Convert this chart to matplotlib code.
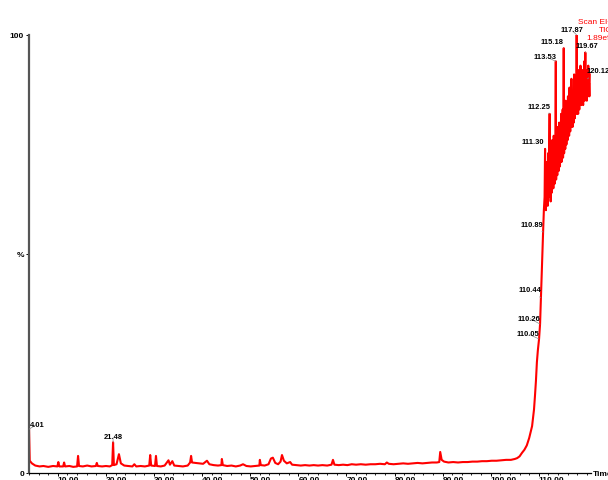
import matplotlib.pyplot as plt
from matplotlib.ticker import MultipleLocator

plt.rcParams['path.simplify'] = False

# TIC trace, time in minutes, intensity in % of the largest peak
base_time = [4.01, 4.15, 4.6, 5.3, 6.2, 7.0, 8.0, 9.0, 9.9, 10.1, 10.3, 11.1, 11.3, 11.5, 12.4,
             13.2, 14.0, 14.2, 14.4, 15.2, 16.1, 17.0, 17.9, 18.1, 18.3, 19.2, 20.0, 20.8, 21.3,
             21.48, 21.65, 22.2, 22.7, 23.1, 23.8, 24.6, 25.5, 25.9, 26.3, 27.2, 28.1, 29.0, 29.2,
             29.4, 30.2, 30.4, 30.6, 31.4, 32.2, 33.0, 33.3, 33.8, 34.2, 35.1, 36.0, 37.0, 37.5,
             37.7, 37.9, 38.6, 39.4, 40.2, 41.0, 41.5, 42.4, 43.3, 44.0, 44.1, 44.3, 45.2, 46.1,
             47.0, 47.9, 48.5, 49.2, 50.1, 51.0, 51.9, 52.0, 52.2, 53.0, 53.8, 54.3, 54.7, 55.2,
             55.8, 56.3, 56.6, 57.0, 57.6, 58.3, 58.7, 59.6, 60.5, 61.4, 62.3, 63.2, 64.1, 65.0,
             66.0, 66.9, 67.2, 67.5, 68.4, 69.3, 70.2, 71.1, 72.0, 73.0, 74.0, 75.0, 76.0, 77.0,
             78.0, 78.4, 78.8, 79.8, 80.8, 81.8, 82.8, 83.8, 84.8, 85.8, 86.8, 87.8, 88.8, 89.3,
             89.5, 89.8, 90.3, 91.2, 92.2, 93.2, 94.2, 95.2, 96.2, 97.2, 98.2, 99.2, 100.2, 101.2,
             102.2, 103.2, 104.2, 105.0]
base_pct = [10.0, 2.8, 2.2, 1.7, 1.5, 1.6, 1.4, 1.6, 1.5, 2.5, 1.5, 1.5, 2.4, 1.5, 1.6,
            1.4, 1.5, 3.9, 1.6, 1.5, 1.7, 1.5, 1.6, 2.3, 1.6, 1.5, 1.6, 1.5, 1.8,
            7.0, 1.8, 2.0, 4.3, 2.2, 1.7, 1.6, 1.5, 2.0, 1.5, 1.6, 1.5, 1.7, 4.1,
            1.7, 1.6, 3.9, 1.6, 1.5, 1.7, 2.9, 1.9, 2.7, 1.7, 1.6, 1.5, 1.7, 2.4,
            3.9, 2.4, 2.3, 2.2, 2.1, 2.8, 2.0, 1.8, 1.7, 1.8, 3.2, 1.8, 1.6, 1.7,
            1.5, 1.7, 2.0, 1.6, 1.5, 1.6, 1.7, 3.0, 1.8, 1.7, 2.0, 3.3, 3.5, 2.3,
            2.0, 2.6, 4.1, 2.8, 2.2, 2.5, 1.9, 1.8, 1.7, 1.8, 1.7, 1.8, 1.7, 1.8,
            1.7, 1.9, 3.0, 1.9, 1.8, 1.9, 1.8, 2.0, 1.9, 2.0, 1.9, 2.0, 2.0, 2.1,
            2.0, 2.4, 2.1, 2.0, 2.1, 2.2, 2.1, 2.2, 2.3, 2.2, 2.3, 2.4, 2.4, 2.5,
            4.8, 3.0, 2.6, 2.4, 2.5, 2.4, 2.5, 2.5, 2.6, 2.6, 2.7, 2.7, 2.8, 2.8,
            2.9, 3.0, 3.0, 3.2]

# steep rise of the column bleed
rise_time = [105.5, 106.0, 106.5, 107.0, 107.5, 108.0, 108.6, 109.0, 109.2, 109.4, 109.6,
             109.8, 110.05, 110.26, 110.44, 110.65, 110.89, 111.05, 111.2, 111.3, 111.35]
rise_pct = [3.4, 3.8, 4.6, 5.3, 6.3, 8.0, 10.7, 14.5, 17.6, 21.0, 25.3,
            28.0, 30.6, 34.0, 40.0, 47.0, 55.0, 60.0, 63.0, 74.0, 64.0]

# noisy plateau at the end of the run
band_time = [111.40, 111.48, 111.55, 111.62, 111.70, 111.78, 111.85, 111.92, 112.00, 112.08,
             112.16, 112.25, 112.30, 112.38, 112.46, 112.54, 112.62, 112.70, 112.78, 112.86,
             112.94, 113.02, 113.10, 113.18, 113.26, 113.34, 113.42, 113.53, 113.60, 113.68,
             113.76, 113.84, 113.92, 114.00, 114.08, 114.16, 114.24, 114.32, 114.40, 114.48,
             114.56, 114.64, 114.72, 114.80, 114.88, 114.96, 115.04, 115.10, 115.18, 115.26,
             115.34, 115.42, 115.50, 115.58, 115.66, 115.74, 115.82, 115.90, 115.98, 116.06,
             116.14, 116.22, 116.30, 116.38, 116.46, 116.54, 116.62, 116.70, 116.78, 116.86,
             116.94, 117.02, 117.10, 117.18, 117.26, 117.34, 117.42, 117.50, 117.58, 117.66,
             117.74, 117.80, 117.87, 117.94, 118.02, 118.10, 118.18, 118.26, 118.34, 118.42,
             118.50, 118.58, 118.66, 118.74, 118.82, 118.90, 118.98, 119.06, 119.14, 119.22,
             119.30, 119.38, 119.46, 119.54, 119.60, 119.67, 119.74, 119.82, 119.90, 119.98,
             120.06, 120.12, 120.20, 120.28, 120.36, 120.44, 120.52, 120.60]
band_pct = [66, 60, 71, 64, 62, 70, 61, 73, 66, 63,
            72, 82, 64, 69, 62, 74, 70, 64, 76, 66,
            72, 65, 77, 68, 66, 75, 70, 94, 67, 76,
            71, 68, 79, 70, 74, 69, 80, 73, 70, 78,
            72, 82, 71, 76, 74, 83, 72, 79, 97, 73,
            81, 76, 74, 85, 77, 75, 82, 79, 76, 86,
            78, 83, 77, 88, 80, 78, 85, 79, 90, 81,
            84, 79, 87, 82, 80, 91, 83, 81, 88, 82,
            86, 83, 100, 82, 89, 84, 82, 92, 85, 83,
            89, 84, 93, 86, 84, 90, 85, 92, 86, 84,
            91, 87, 94, 85, 89, 96, 86, 92, 87, 85,
            91, 90, 86, 93, 87, 89, 86, 91]

peak_labels = [4.01, 21.48, 110.05, 110.26, 110.44, 110.89, 111.30, 112.25,
               113.53, 115.18, 117.87, 119.67, 120.12]
# where each label sits relative to its peak, in pixels
label_offsets = [(8, 5), (0, 6), (-11, 5), (-11, 6), (-11, 8), (-11, 8), (-12, 7), (-11, 7),
                 (-11, 5), (-12, 7), (-5, 5), (2, 7), (11, 8)]

xticks = [10, 20, 30, 40, 50, 60, 70, 80, 90, 100, 110]

time = base_time + rise_time + band_time
pct = base_pct + rise_pct + band_pct
lookup = dict(zip(time, pct))

font = ['Liberation Sans', 'DejaVu Sans']
fig = plt.figure(figsize=(6.08, 4.81), dpi=100)
ax = fig.add_axes([29 / 608, 7 / 481, 562 / 608, 438 / 481])

ax.plot(time, pct, color='#ff0000', lw=1.5)
ax.set_xlim(4.0, 120.85)
ax.set_ylim(0, 100)

for t, (dx, dy) in zip(peak_labels, label_offsets):
    ax.annotate(f'{t:.2f}', xy=(t, lookup[t]), xytext=(dx, dy), textcoords='offset pixels',
                ha='center', va='center', fontsize=5.4, fontweight='bold', family=font,
                arrowprops=dict(arrowstyle='-', color='#888888', lw=0.5, shrinkA=1, shrinkB=0))

ax.spines['top'].set_visible(False)
ax.spines['right'].set_visible(False)
ax.spines['left'].set_color('#555555')
ax.spines['left'].set_linewidth(1.6)
ax.spines['bottom'].set_linewidth(0.9)

ax.set_xticks(xticks)
ax.set_xticklabels([f'{v:.2f}' for v in xticks], fontsize=6, fontweight='bold', family=font)
for lab in ax.get_xticklabels():
    lab.set_ha('left')
ax.xaxis.set_minor_locator(MultipleLocator(2))
ax.tick_params(axis='x', which='major', length=2.5, width=0.7, pad=0)
ax.tick_params(axis='x', which='minor', length=1.6, width=0.6)

ax.set_yticks([0, 50, 100])
ax.set_yticklabels(['0', '%', '100'], fontsize=6, fontweight='bold', family=font)
ax.tick_params(axis='y', length=2.5, width=0.7, pad=1)

fig.text(593 / 608, 1 - 475 / 481, 'Time', ha='left', va='center', fontsize=6,
         fontweight='bold', family=font)
fig.text(612 / 608, 1 - 19 / 481, 'Scan EI+\nTIC\n1.89e9', ha='right', va='top',
         fontsize=6, color='#ff0000', family=font, linespacing=1.25)

fig.savefig('out.png', dpi=100)
